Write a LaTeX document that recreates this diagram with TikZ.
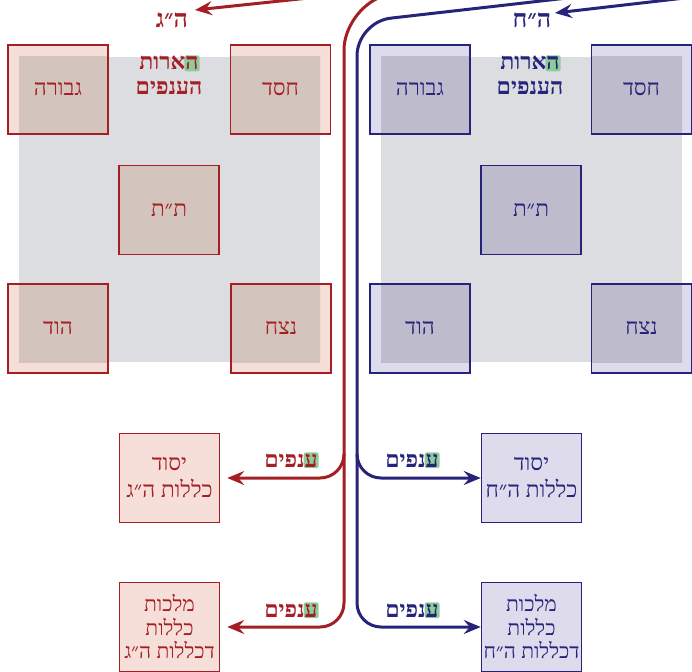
\documentclass[tikz,border=0pt]{standalone}
\usepackage{fontspec}
\usetikzlibrary{arrows.meta,backgrounds}
\newfontfamily\heb[Script=Hebrew]{Liberation Serif}
\TeXXeTstate=1
\newcommand\RL[1]{\beginR#1\endR}
\definecolor{rdark}{HTML}{A41E24}
\definecolor{rpink}{HTML}{F5DFD8}
\definecolor{rover}{HTML}{D4C4BE}
\definecolor{graybg}{HTML}{DCDDE0}
\definecolor{bdark}{HTML}{25237A}
\definecolor{blav}{HTML}{DDDBEC}
\definecolor{bover}{HTML}{BEBCCC}
\definecolor{hlgreen}{HTML}{8FCC9C}
\begin{document}
\begin{tikzpicture}[x=1pt,y=-1pt,
  box/.style={line width=1.5pt, minimum width=100pt, minimum height=89pt, inner sep=0pt, align=center, font=\heb\fontsize{22.5}{23}\selectfont},
  rb/.style={box, draw=rdark, text=rdark},
  bb/.style={box, draw=bdark, text=bdark},
  small3/.style={font=\heb\fontsize{21}{23.5}\selectfont},
  lab/.style={font=\heb\bfseries\fontsize{23}{25}\selectfont, align=center},
  toplab/.style={font=\heb\bfseries\fontsize{25}{25}\selectfont},
  word/.style={lab, inner sep=0pt},
  hl/.style={lab, fill=hlgreen, rounded corners=2pt, inner sep=1pt},
  conn/.style={line width=3pt},
  tipr/.style={-{Stealth[length=17pt,width=14pt,inset=6pt]}}
]
\useasboundingbox (0,0) rectangle (692,671);
\clip (0,0) rectangle (692,671);

% ---- left group (gevurah)
\node[rb] (lgev) at (58,89.5) {\RL{גבורה}};
\node[rb] (lhes) at (280.5,89.5) {\RL{חסד}};
\node[rb] (ltt) at (169,210) {\RL{ת״ת}};
\node[rb] (lhod) at (58,328.5) {\RL{הוד}};
\node[rb] (lnez) at (281,328.5) {\RL{נצח}};
\node[rb] (lyes) at (169.5,478) {\RL{יסוד}\\[4pt]\RL{כללות ה״ג}};
\node[rb, small3] (lmal) at (169.5,627) {\makebox[0pt]{\RL{מלכות}}\\\makebox[0pt]{\RL{כללות}}\\\makebox[0pt]{\RL{דכללות ה״ג}}};
\node[word, text=rdark, anchor=base] (lhar1) at (169,70) {\RL{הארות}};
\node[word, text=rdark, anchor=base] (lhar2) at (169,95) {\RL{הענפים}};
\node[toplab, text=rdark, anchor=base] (lhg) at (172,28) {\RL{ה״ג}};

% ---- right group (chesed)
\node[bb] (rgev) at (420,89.5) {\RL{גבורה}};
\node[bb] (rhes) at (641.5,89.5) {\RL{חסד}};
\node[bb] (rtt) at (531,210) {\RL{ת״ת}};
\node[bb] (rhod) at (420,328.5) {\RL{הוד}};
\node[bb] (rnez) at (641.5,328.5) {\RL{נצח}};
\node[bb] (ryes) at (531.5,478) {\RL{יסוד}\\[4pt]\RL{כללות ה״ח}};
\node[bb, small3] (rmal) at (531.5,627) {\makebox[0pt]{\RL{מלכות}}\\\makebox[0pt]{\RL{כללות}}\\\makebox[0pt]{\RL{דכללות ה״ח}}};
\node[word, text=bdark, anchor=base] (rhar1) at (530,70) {\RL{הארות}};
\node[word, text=bdark, anchor=base] (rhar2) at (530,95) {\RL{הענפים}};
\node[toplab, text=bdark, anchor=base] (rhh) at (532,28) {\RL{ה״ח}};

% branch labels
\node[word, text=rdark, anchor=base] (lan1) at (291,467) {\RL{ענפים}};
\node[word, text=rdark, anchor=base] (lan2) at (291,617) {\RL{ענפים}};
\node[word, text=bdark, anchor=base] (ran1) at (412,467) {\RL{ענפים}};
\node[word, text=bdark, anchor=base] (ran2) at (412,617) {\RL{ענפים}};

\begin{pgfonlayer}{background}
  \fill[graybg] (19,57) rectangle (320,362);
  \fill[graybg] (381,57) rectangle (682,362);
  \foreach \n in {lgev,lhes,ltt,lhod,lnez,lyes,lmal}
    \fill[rpink] (\n.south west) rectangle (\n.north east);
  \foreach \n in {rgev,rhes,rtt,rhod,rnez,ryes,rmal}
    \fill[blav] (\n.south west) rectangle (\n.north east);
  \begin{scope}
    \clip (19,57) rectangle (320,362);
    \foreach \n in {lgev,lhes,ltt,lhod,lnez}
      \fill[rover] (\n.south west) rectangle (\n.north east);
  \end{scope}
  \begin{scope}
    \clip (381,57) rectangle (682,362);
    \foreach \n in {rgev,rhes,rtt,rhod,rnez}
      \fill[bover] (\n.south west) rectangle (\n.north east);
  \end{scope}
  % highlights behind first letters
  \foreach \n in {lhar1,rhar1}
    \node[hl, anchor=base east] at ([xshift=1pt]\n.base east) {\phantom{ה}};
  \foreach \n in {lan1,lan2,ran1,ran2}
    \node[hl, anchor=base east] at ([xshift=1pt]\n.base east) {\phantom{ע}};
\end{pgfonlayer}

% ---- trunks
\coordinate (rfar) at (640,-95);
\coordinate (rc) at (344,10);
\coordinate (rbend) at (344,50);
\coordinate (rtr) at (344,0);
\coordinate (rb1) at (344,456);
\coordinate (bfar) at (760,-24);
\coordinate (bc) at (357,22);
\coordinate (bbend) at (357,56);
\coordinate (btr) at (357,0);
\coordinate (bb1) at (357,456);

\draw[conn, rdark, rounded corners=40pt] (rfar) -- (rc) -- (rbend);
\draw[conn, rdark, tipr, rounded corners=24pt] (rbend) -- (lmal.east -| rtr) -- ([xshift=7pt]lmal.east);
\draw[conn, rdark, tipr, rounded corners=24pt] (rb1) -- (lyes.east -| rtr) -- ([xshift=7pt]lyes.east);

\draw[conn, bdark, rounded corners=34pt] (bfar) -- (bc) -- (bbend);
\draw[conn, bdark, tipr, rounded corners=24pt] (bbend) -- (rmal.west -| btr) -- (rmal.west);
\draw[conn, bdark, tipr, rounded corners=24pt] (bb1) -- (ryes.west -| btr) -- (ryes.west);

% ---- top arrows
\coordinate (rasrc) at (400,-11.6);
\coordinate (ratip) at (195,10);
\coordinate (basrc) at (780,-13);
\coordinate (batip) at (555,13);
\draw[conn, rdark, tipr] (rasrc) -- (ratip);
\draw[conn, bdark, tipr] (basrc) -- (batip);
\end{tikzpicture}
\end{document}
